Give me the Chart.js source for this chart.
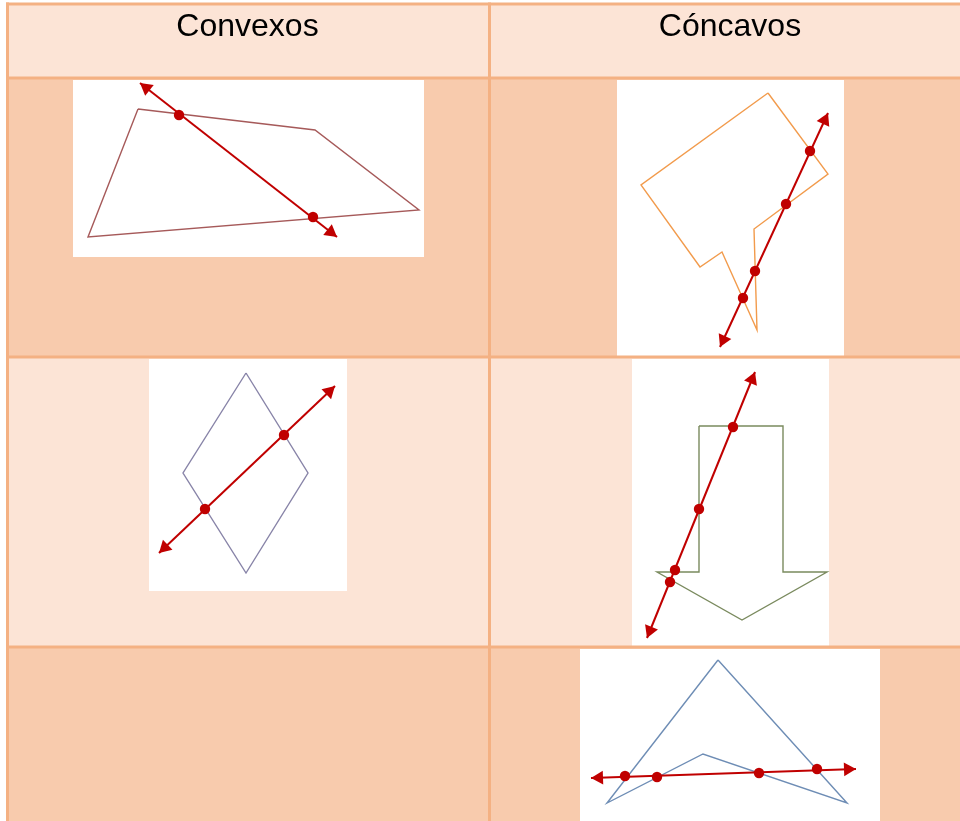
<!DOCTYPE html>
<html><head><meta charset="utf-8">
<script src="https://cdn.jsdelivr.net/npm/chart.js@4.4.1/dist/chart.umd.min.js"></script>
<style>html,body{margin:0;padding:0;background:#fff;overflow:hidden}#wrap{position:relative;width:960px;height:821px}</style>
</head><body><div id="wrap"><canvas id="c"></canvas></div>
<script>
// ---- table text ----
const headers = ['Convexos', 'Cóncavos'];
const headerX = [247.5, 730];
const headerBaseline = 35.5;

// ---- table grid ----
const colEdges = [7.5, 489.5, 975];
const rowEdges = [4, 78, 357, 647, 830];
const rowColors = ['#FCE4D6', '#F8CBAD', '#FCE4D6', '#F8CBAD'];
const pictureBoxes = [[73, 80, 424, 257], [617, 80, 844, 356], [149, 359, 347, 591], [632, 359, 829, 646], [580, 649, 880, 821]];

// ---- figures: polygon vertices, secant line (arrow tips), intersection points ----
const convexQuad = [[138, 109], [315, 130], [419, 210], [88, 237]];
const convexQuadLine = [[140, 83], [337, 237]];
const convexQuadHits = [[179, 115], [313, 217]];

const concaveOct = [[768, 93], [828, 174], [754, 229], [757, 330], [722, 252], [700, 267], [641, 185]];
const concaveOctLine = [[828, 113], [720, 347]];
const concaveOctHits = [[810, 151], [786, 204], [755, 271], [743, 298]];

const rhombus = [[246, 373], [308, 473], [246, 573], [183, 473]];
const rhombusLine = [[335, 386], [159, 553]];
const rhombusHits = [[284, 435], [205, 509]];

const arrowShape = [[699, 426], [783, 426], [783, 572], [827, 572], [742, 620], [657, 572], [699, 572]];
const arrowLine = [[755, 372], [647, 638]];
const arrowHits = [[733, 427], [699, 509], [675, 570], [670, 582]];

const dart = [[718, 660], [847, 803], [703, 754], [607, 803]];
const dartLine = [[591, 778], [856, 769]];
const dartHits = [[625, 776], [657, 777], [759, 773], [817, 769]];

const figures = [
  { poly: convexQuad, line: convexQuadLine, hits: convexQuadHits, color: '#A65A5A' },
  { poly: concaveOct, line: concaveOctLine, hits: concaveOctHits, color: '#F29B4C' },
  { poly: rhombus, line: rhombusLine, hits: rhombusHits, color: '#8884A8' },
  { poly: arrowShape, line: arrowLine, hits: arrowHits, color: '#7A8A5E' },
  { poly: dart, line: dartLine, hits: dartHits, color: '#6E8DB5' }
];

const RED = '#C00000';
const BORDER = '#F4B183';
const ARROW_R = 8;

const pts = arr => arr.map(p => ({ x: p[0], y: p[1] }));
const datasets = [];

// row backgrounds
rowColors.forEach((col, i) => {
  datasets.push({
    data: [{ x: 0, y: rowEdges[i] }, { x: 975, y: rowEdges[i] }],
    fill: { value: rowEdges[i + 1] }, backgroundColor: col, borderWidth: 0, pointRadius: 0, order: 20
  });
});
// white picture boxes
pictureBoxes.forEach(b => {
  datasets.push({
    data: [{ x: b[0], y: b[1] }, { x: b[2], y: b[1] }],
    fill: { value: b[3] }, backgroundColor: '#FFFFFF', borderWidth: 0, pointRadius: 0, order: 18
  });
});
// left white margin
datasets.push({
  data: [{ x: 0, y: 0 }, { x: colEdges[0] - 1.5, y: 0 }],
  fill: { value: 830 }, backgroundColor: '#FFFFFF', borderWidth: 0, pointRadius: 0, order: 19
});
// grid lines
rowEdges.slice(0, 4).forEach(yv => {
  datasets.push({ data: [{ x: colEdges[0] - 1.5, y: yv }, { x: 975, y: yv }], borderColor: BORDER, borderWidth: 3, pointRadius: 0, fill: false, order: 15 });
});
colEdges.slice(0, 2).forEach(xv => {
  datasets.push({ data: [{ x: xv, y: rowEdges[0] - 1.5 }, { x: xv, y: 830 }], borderColor: BORDER, borderWidth: 3, pointRadius: 0, fill: false, order: 15 });
});

// figures
figures.forEach(f => {
  const closed = f.poly.concat([f.poly[0]]);
  datasets.push({ data: pts(closed), borderColor: f.color, borderWidth: 1.4, pointRadius: 0, fill: false, order: 6 });
  const [a, b] = f.line;
  const dx = b[0] - a[0], dy = b[1] - a[1];
  const len = Math.hypot(dx, dy), ux = dx / len, uy = dy / len;
  datasets.push({ data: pts(f.line), borderColor: RED, borderWidth: 2, pointRadius: 0, fill: false, order: 5 });
  const heads = [[b[0] - ux * ARROW_R, b[1] - uy * ARROW_R], [a[0] + ux * ARROW_R, a[1] + uy * ARROW_R]];
  const rots = [Math.atan2(ux, -uy) * 180 / Math.PI, Math.atan2(-ux, uy) * 180 / Math.PI];
  datasets.push({
    data: pts(heads), showLine: false, pointStyle: 'triangle', pointRadius: ARROW_R,
    pointRotation: ctx => rots[ctx.dataIndex], pointBackgroundColor: RED, pointBorderColor: RED, pointBorderWidth: 0, order: 4
  });
  datasets.push({
    data: pts(f.hits), showLine: false, pointStyle: 'circle', pointRadius: 5.2,
    pointBackgroundColor: RED, pointBorderColor: RED, pointBorderWidth: 0, order: 3
  });
});

const headerText = {
  id: 'headerText',
  afterDatasetsDraw(chart) {
    const { ctx, scales: { x, y } } = chart;
    ctx.save();
    ctx.font = '32px "Liberation Sans", Arial, sans-serif';
    ctx.fillStyle = '#000';
    ctx.textAlign = 'center';
    ctx.textBaseline = 'alphabetic';
    headers.forEach((t, i) => ctx.fillText(t, x.getPixelForValue(headerX[i]), y.getPixelForValue(headerBaseline)));
    ctx.restore();
  }
};

new Chart(document.getElementById('c'), {
  type: 'line',
  data: { datasets: datasets.map(d => Object.assign({ tension: 0, clip: false, spanGaps: true }, d)) },
  options: {
    responsive: true, maintainAspectRatio: false, animation: false,
    layout: { padding: 0, autoPadding: false },
    events: [],
    plugins: { legend: { display: false }, tooltip: { enabled: false } },
    scales: {
      x: { type: 'linear', min: 0, max: 960, display: false },
      y: { type: 'linear', min: 0, max: 821, reverse: true, display: false }
    }
  },
  plugins: [headerText]
});
</script>
</body></html>
